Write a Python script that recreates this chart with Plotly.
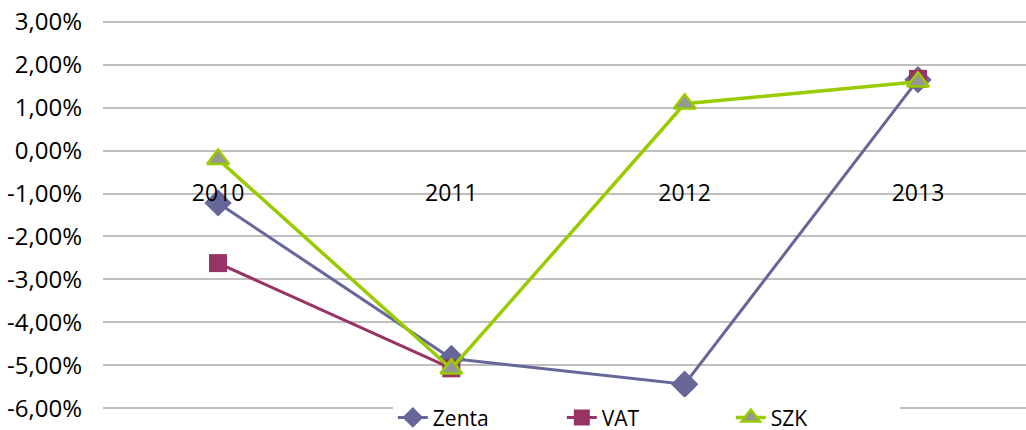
import plotly.graph_objects as go

years = ["2010", "2011", "2012", "2013"]
zenta = [-1.22, -4.84, -5.44, 1.65]
vat = [-2.62, -5.07, None, 1.67]
szk = [-0.20, -5.08, 1.09, 1.60]

y_tickvals = [3, 2, 1, 0, -1, -2, -3, -4, -5, -6]
y_ticktext = ["3,00%", "2,00%", "1,00%", "0,00%", "-1,00%", "-2,00%",
              "-3,00%", "-4,00%", "-5,00%", "-6,00%"]

FONT = "Open Sans"

fig = go.Figure()
fig.add_trace(go.Scatter(
    x=years, y=zenta, name="Zenta", mode="lines+markers",
    line=dict(color="#666699", width=3),
    marker=dict(symbol="diamond", size=21, color="#666699"),
))
fig.add_trace(go.Scatter(
    x=years, y=vat, name="VAT", mode="lines+markers",
    line=dict(color="#993366", width=3),
    marker=dict(symbol="square", size=18, color="#993366"),
    connectgaps=False,
))
fig.add_trace(go.Scatter(
    x=years, y=szk, name="SZK", mode="lines+markers",
    line=dict(color="#99cc00", width=3.5),
    marker=dict(symbol="triangle-up", size=19, color="#969696",
                line=dict(color="#99cc00", width=2.5)),
))

fig.update_layout(
    width=1026, height=430,
    margin=dict(l=103, r=0, t=20, b=20, autoexpand=False),
    paper_bgcolor="white", plot_bgcolor="white",
    font=dict(family=FONT, size=21, color="black"),
    showlegend=True,
    legend=dict(
        orientation="h", x=0.314, xanchor="left", y=-0.02, yanchor="middle",
        bgcolor="white", font=dict(size=21, family=FONT),
        entrywidthmode="pixels", entrywidth=124,
        traceorder="normal",
    ),
    xaxis=dict(
        type="category", range=[-0.493, 3.463],
        anchor="free", position=0.6652,
        showgrid=False, showline=False, zeroline=False, ticks="",
        tickfont=dict(size=23, family=FONT, color="black"),
        ticklabelstandoff=26,
    ),
    yaxis=dict(
        range=[-6.04, 3.04], tickvals=y_tickvals, ticktext=y_ticktext,
        showgrid=True, gridcolor="#bfbfbf", gridwidth=1.5,
        zeroline=False, showline=False, ticks="",
        ticklabelstandoff=20,
        tickfont=dict(size=24, family=FONT, color="black"),
    ),
)

fig.write_html("out.html", config={"displayModeBar": False},
               post_script="document.body.style.margin='0px';")
